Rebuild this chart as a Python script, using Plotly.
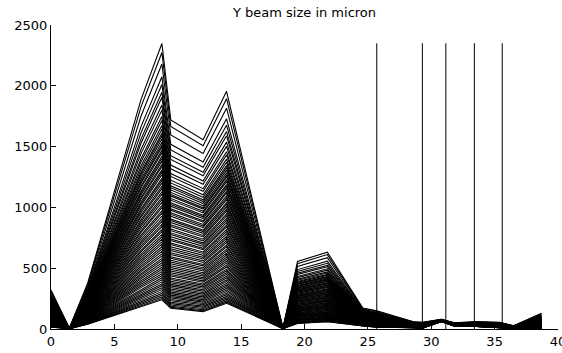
import plotly.graph_objects as go

# Knot positions along the beamline (x axis)
S = [0, 1.45, 2.9, 7.1, 8.75, 9.45, 12.0, 13.85, 18.3, 19.45, 21.8,
     24.6, 25.7, 28.6, 29.3, 30.8, 31.8, 33.6, 35.4, 36.5, 38.7]

# Upper envelope (largest beam) and lower envelope (smallest beam), micron
TOP = [320, 6, 379, 1886, 2348, 1720, 1557, 1955, 8, 555, 632,
       173, 150, 60, 55, 80, 52, 60, 55, 27, 129]
BOT = [15, 2, 40, 180, 240, 170, 143, 212, 3, 45, 60,
       25, 15, 10, 6, 62, 25, 20, 10, 5, 0]

# Relative position of each traced curve between BOT (0) and TOP (1),
# read from the line spacing around x = 9.5 .. 12
FRACTIONS = [
    1.00, 0.965, 0.92, 0.87, 0.84, 0.81, 0.79, 0.76, 0.74, 0.715, 0.70,
    0.68, 0.665, 0.65, 0.64, 0.628, 0.615,
    0.604, 0.596, 0.583, 0.574, 0.560, 0.551, 0.541, 0.528, 0.520, 0.507,
    0.498, 0.488, 0.474, 0.466, 0.455, 0.443, 0.434, 0.421, 0.412, 0.400,
    0.391, 0.380, 0.368, 0.360, 0.347, 0.338, 0.327, 0.316, 0.306, 0.295,
    0.286, 0.274, 0.266, 0.255, 0.246, 0.236, 0.226, 0.217, 0.207, 0.198,
    0.189, 0.179, 0.171, 0.161, 0.153, 0.144, 0.136, 0.127, 0.119, 0.110,
    0.102, 0.094, 0.086, 0.078, 0.070, 0.062, 0.055, 0.047, 0.040, 0.032,
    0.025, 0.018, 0.011, 0.005, 0.0,
]

# Vertical marker lines
VLINE_X = [25.7, 29.3, 31.15, 33.4, 35.6]
VLINE_BOTTOM = 0
VLINE_TOP = 2350

X_TICKS = [0, 5, 10, 15, 20, 25, 30, 35, 40]
Y_TICKS = [0, 500, 1000, 1500, 2000, 2500]

xs, ys = [], []
for f in FRACTIONS:
    xs += S + [None]
    ys += [b + f * (t - b) for t, b in zip(TOP, BOT)] + [None]

vx, vy = [], []
for v in VLINE_X:
    vx += [v, v, None]
    vy += [VLINE_BOTTOM, VLINE_TOP, None]

fig = go.Figure()
fig.add_trace(go.Scatter(x=xs, y=ys, mode="lines",
                         line=dict(color="black", width=1.1),
                         hoverinfo="skip", showlegend=False))
fig.add_trace(go.Scatter(x=vx, y=vy, mode="lines",
                         line=dict(color="black", width=1),
                         hoverinfo="skip", showlegend=False))

font_family = "DejaVu Sans"
axis_common = dict(ticks="inside", ticklen=5, tickcolor="black",
                   showline=True, linecolor="black", linewidth=1,
                   mirror=False, showgrid=False, zeroline=False,
                   automargin=False, ticklabeloverflow="allow",
                   tickfont=dict(family=font_family, size=13, color="black"))
fig.update_layout(
    width=562, height=353,
    margin=dict(l=51, r=4, t=25, b=24, autoexpand=False),
    paper_bgcolor="white", plot_bgcolor="white",
    title=dict(text="Y beam size in micron", x=0.5, xref="paper",
               y=1 - 12 / 353, yref="container", yanchor="middle",
               xanchor="center",
               font=dict(family=font_family, size=13, color="black")),
    xaxis=dict(range=[0, 40], tickvals=X_TICKS, **axis_common),
    yaxis=dict(range=[0, 2500], tickvals=Y_TICKS, **axis_common),
)

fig.write_html("out.html")
